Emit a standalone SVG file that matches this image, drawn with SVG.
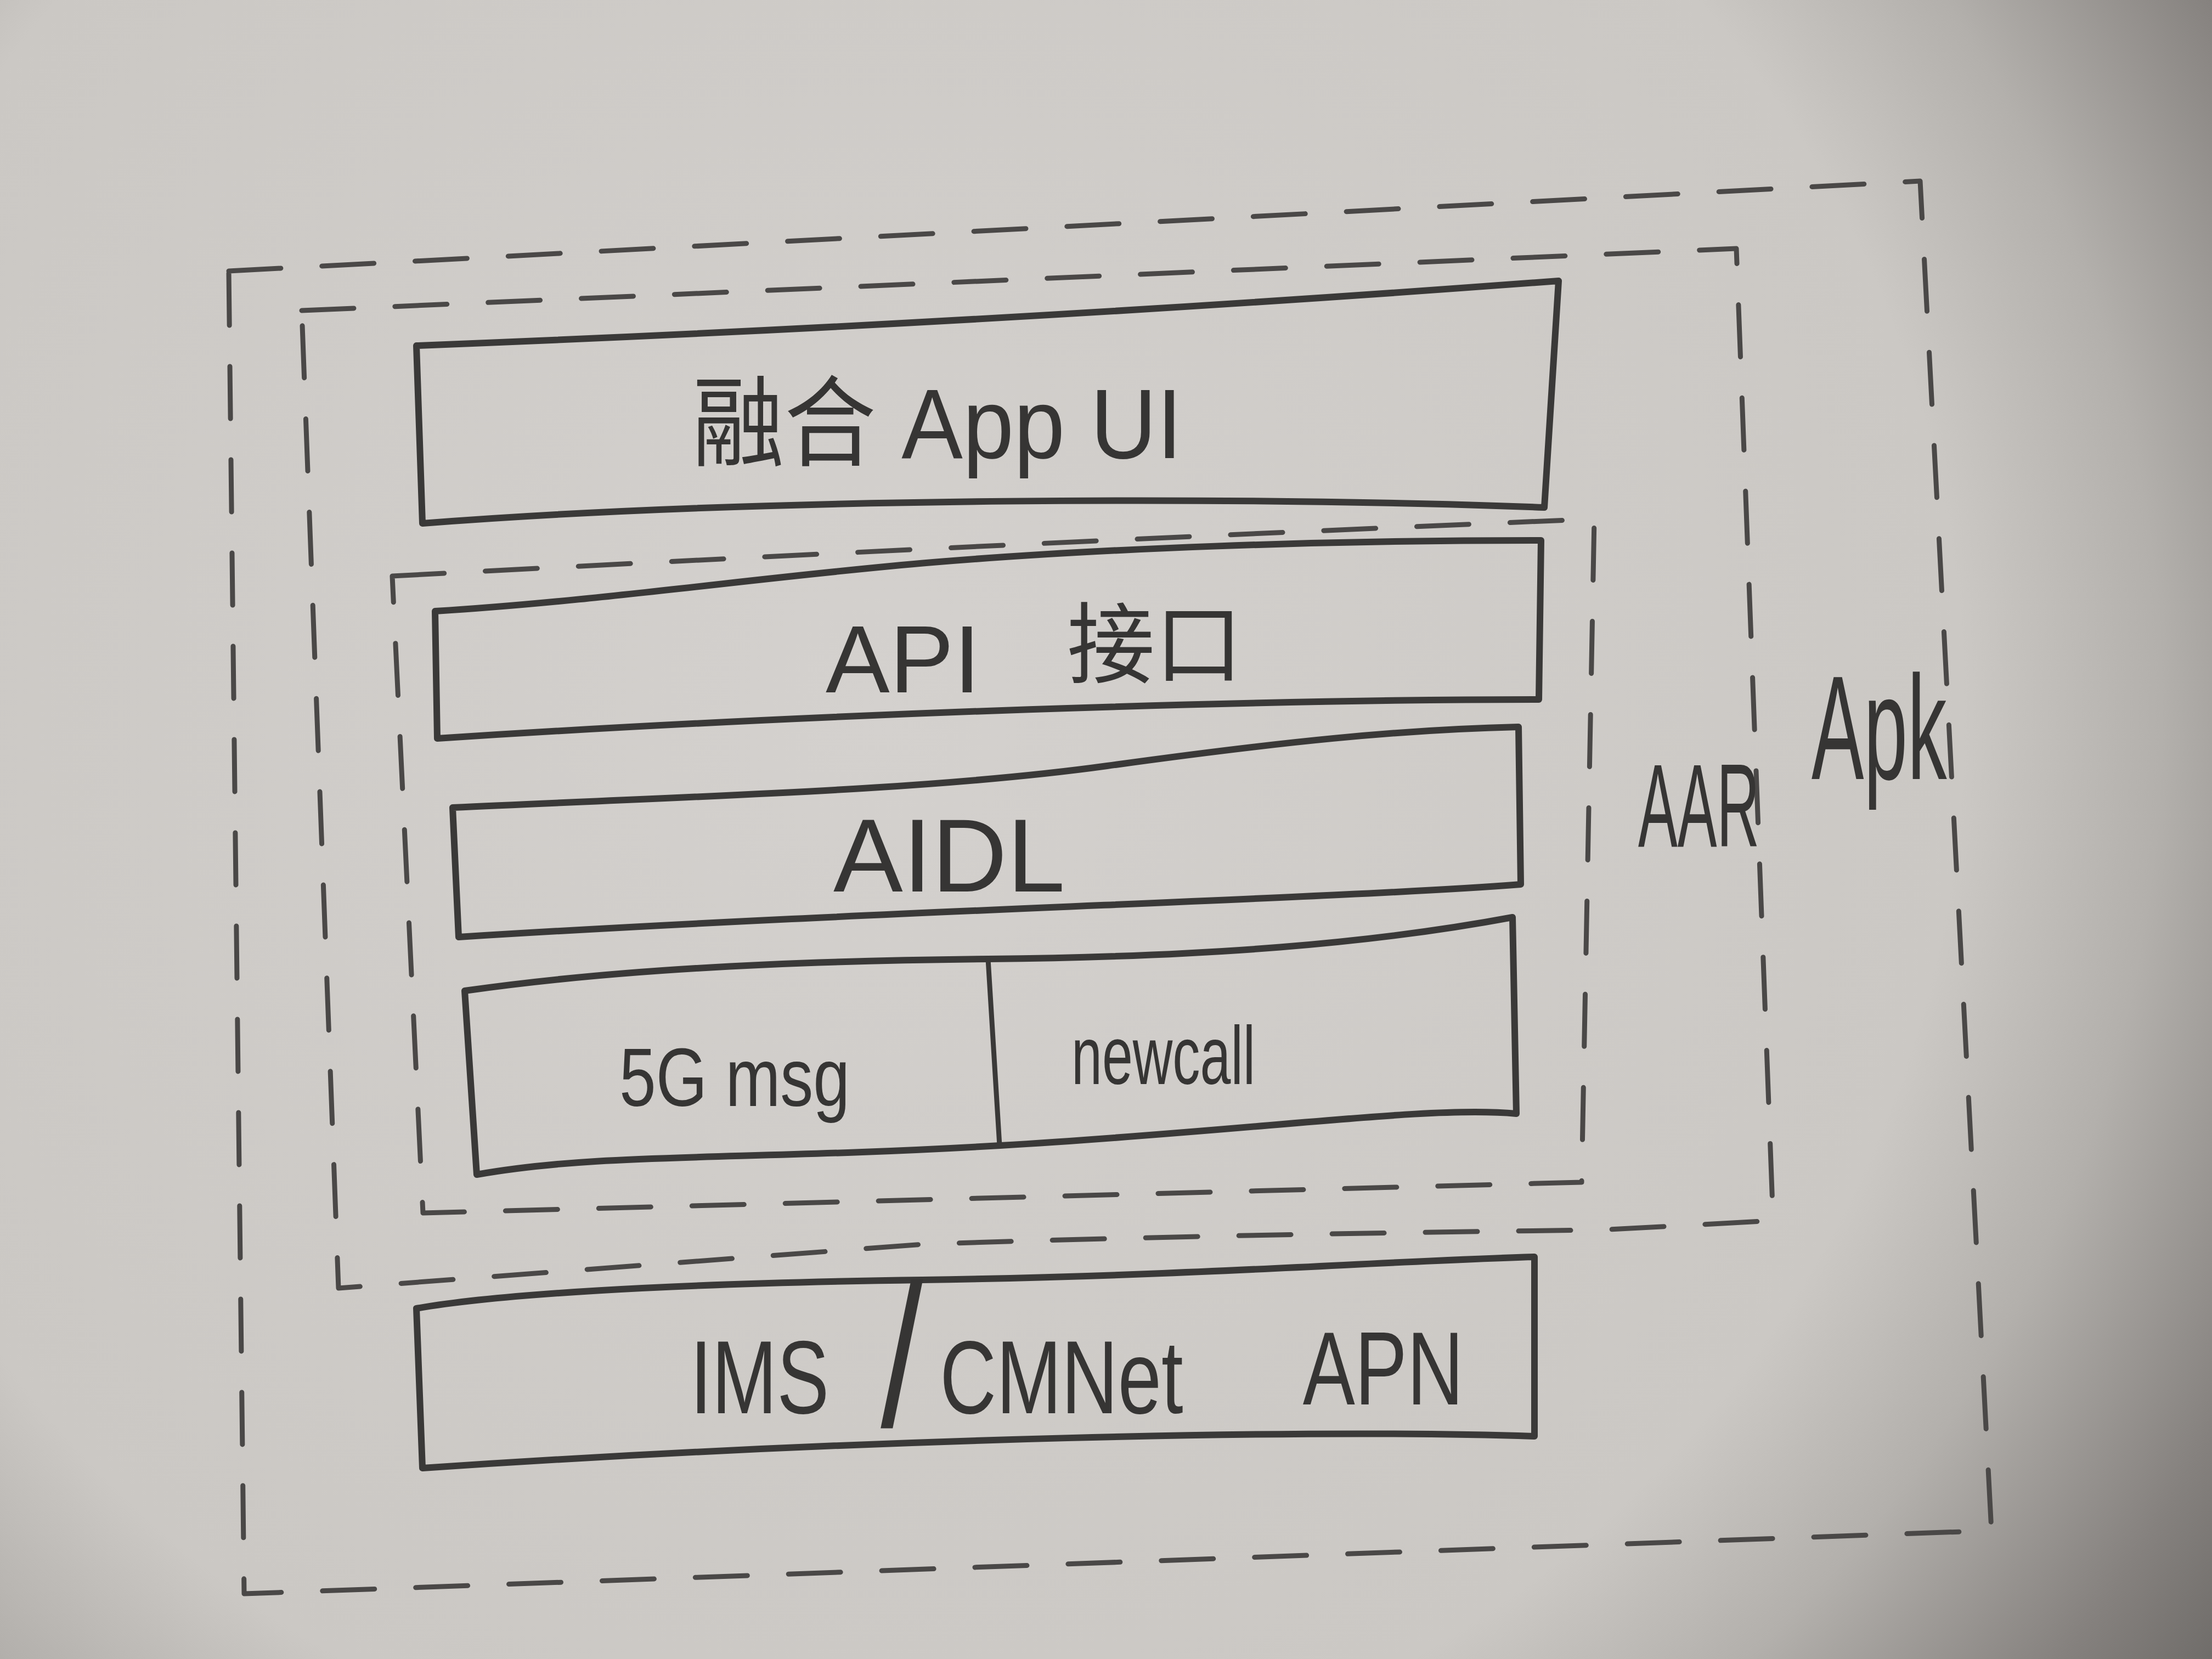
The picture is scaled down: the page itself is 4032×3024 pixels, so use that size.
<svg xmlns="http://www.w3.org/2000/svg" width="4032" height="3024" viewBox="0 0 4032 3024">
  <defs>
    <radialGradient id="paper" cx="1600" cy="1300" r="3000" gradientUnits="userSpaceOnUse">
      <stop offset="0" stop-color="#d4d1ce"/>
      <stop offset="0.66" stop-color="#cbc8c4"/>
      <stop offset="0.78" stop-color="#b3b0ac"/>
      <stop offset="0.92" stop-color="#85817e"/>
      <stop offset="1" stop-color="#6e6b68"/>
    </radialGradient>
    <style>
      .box { fill: none; stroke: #3a3938; stroke-width: 12; stroke-linecap: round; stroke-linejoin: round; }
      .div { fill: none; stroke: #3a3938; stroke-width: 9; stroke-linecap: round; }
      .dash { fill: none; stroke: #4a4847; stroke-width: 9; stroke-dasharray: 95 75; stroke-linecap: round; stroke-linejoin: round; }
      .lbl { font-family: "Liberation Sans", "Noto Sans CJK SC", sans-serif; fill: #363534; }
    </style>
  </defs>

  <rect x="0" y="0" width="4032" height="3024" fill="url(#paper)"/>

  <!-- outermost dashed boundary -->
  <g id="outer-boundary">
    <path class="dash" d="M417,494 L3500,330 L3630,2790 L445,2905 Z"/>
  </g>

  <!-- Apk boundary (middle dashed) -->
  <g id="apk">
    <path class="dash" d="M550,566 L3165,453 L3232,2225 L2916,2242 Q2200,2250 1682,2268 L617,2348 Z"/>
    <text class="lbl" font-size="270" transform="translate(3302,1420) scale(0.53,1)">Apk</text>
  </g>

  <!-- AAR boundary (inner dashed) -->
  <g id="aar">
    <path class="dash" d="M715,1050 Q1800,992 2906,946 L2883,2155 L771,2211 Z"/>
    <text class="lbl" font-size="215" transform="translate(2986,1543) scale(0.5,1)">AAR</text>
  </g>

  <!-- App UI -->
  <g id="app-ui">
    <path class="box" d="M759,630 Q1800,590 2841,512 L2815,925 C2300,905 1400,905 770,954 Z"/>
    <text class="lbl" font-size="180" transform="translate(1262,835) scale(0.93,1)">融合 App UI</text>
  </g>

  <!-- API interface -->
  <g id="api">
    <path class="box" d="M793,1114 C1100,1095 1400,1050 1700,1025 S2400,985 2809,985 L2805,1275 C2300,1275 1500,1300 797,1346 Z"/>
    <text class="lbl" font-size="175"><tspan x="1505" y="1262">API</tspan> <tspan x="1945" y="1232" font-size="160">接口</tspan></text>
  </g>

  <!-- AIDL -->
  <g id="aidl">
    <path class="box" d="M825,1472 C1300,1450 1700,1440 2018,1396 S2550,1330 2768,1325 L2772,1612 C2400,1640 1600,1660 836,1708 Z"/>
    <text class="lbl" font-size="190" x="1519" y="1625">AIDL</text>
  </g>

  <!-- 5G msg / newcall -->
  <g id="msg-newcall">
    <path class="box" d="M847,1806 C1100,1770 1400,1752 1801,1748 S2500,1720 2757,1672 L2764,2030 C2600,2015 2300,2060 1823,2088 S1100,2100 869,2141 Z"/>
    <line class="div" x1="1801" y1="1748" x2="1822" y2="2088"/>
    <text class="lbl" font-size="150" transform="translate(1129,2016) scale(0.8,1)">5G msg</text>
    <text class="lbl" font-size="150" transform="translate(1953,1976) scale(0.67,1)">newcall</text>
  </g>

  <!-- IMS/CMNet APN -->
  <g id="apn">
    <path class="box" d="M759,2385 C900,2360 1200,2340 1681,2333 S2500,2300 2797,2291 L2797,2618 C2400,2605 1600,2620 770,2676 Z"/>
    <text class="lbl" font-size="190" transform="translate(1258,0) scale(0.75,1)"><tspan x="0" y="2576">IMS</tspan><tspan x="463" y="2600" font-size="370">/</tspan><tspan x="607" y="2576">CMNet</tspan> <tspan x="1489" y="2560">APN</tspan></text>
  </g>

  <g id="connectors"></g>
</svg>
